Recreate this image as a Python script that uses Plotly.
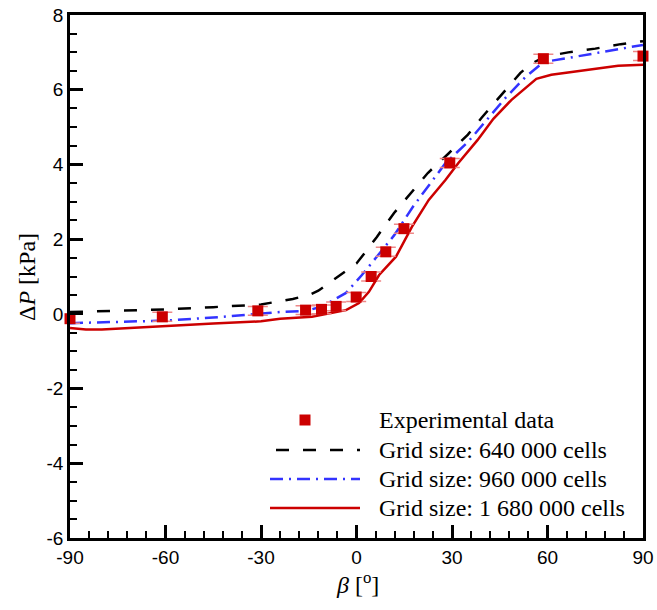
import plotly.graph_objects as go

# Experimental data
exp_beta = [-90, -61, -31, -16, -11, -6.4, -0.1, 4.6, 9.2, 14.9, 29.3, 58.7, 90]
exp_dp = [-0.13, -0.08, 0.08, 0.1, 0.12, 0.2, 0.45, 1.0, 1.66, 2.28, 4.04, 6.83, 6.9]
exp_err = [0.12] * len(exp_beta)

# Grid size: 640 000 cells
g640_beta = [-90, -75, -60, -45, -30, -20, -15, -12, -5.5, 0, 1.4, 6.4, 11.8, 17, 22.4,
             29, 35, 39.3, 45.6, 51.5, 55, 59, 66.5, 75, 83, 90]
g640_dp = [0.05, 0.08, 0.12, 0.18, 0.25, 0.4, 0.5, 0.62, 1.02, 1.35, 1.5, 2.06, 2.7, 3.24, 3.77,
           4.3, 4.8, 5.25, 5.86, 6.45, 6.7, 6.88, 7.0, 7.1, 7.22, 7.3]

# Grid size: 960 000 cells
g960_beta = [-90, -75, -60, -45, -30, -24, -16, -11, -3.3, 1.7, 6.1, 11.8, 18, 23.3, 28,
             35, 41.5, 46.8, 53.1, 58.7, 66.5, 77, 88.5, 90]
g960_dp = [-0.25, -0.22, -0.18, -0.1, 0.0, 0.05, 0.08, 0.19, 0.56, 1.04, 1.5, 2.1, 2.9, 3.5, 4.04,
           4.6, 5.25, 5.78, 6.34, 6.74, 6.85, 7.0, 7.17, 7.2]

# Grid size: 1 680 000 cells
g1680_beta = [-90, -85, -80, -70, -60, -45, -30, -24, -14, -3.3, 0.8, 3.9, 7.1, 12.4, 17.4,
              22.7, 28, 32, 38, 43, 48.7, 53, 56.5, 61.2, 71.9, 82.2, 90]
g1680_dp = [-0.38, -0.42, -0.42, -0.37, -0.32, -0.26, -0.2, -0.13, -0.08, 0.1, 0.29, 0.59, 1.04,
            1.53, 2.33, 3.05, 3.59, 4.04, 4.65, 5.22, 5.73, 6.05, 6.29, 6.4, 6.53, 6.64, 6.67]

legend_labels = ["Experimental data", "Grid size: 640 000 cells",
                 "Grid size: 960 000 cells", "Grid size: 1 680 000 cells"]

x_ticks = [-90, -60, -30, 0, 30, 60, 90]
x_ticktext = ["-90", "-60", "-30", "0", "30", "60", "90"]
y_ticks = [-6, -4, -2, 0, 2, 4, 6, 8]
y_ticktext = ["-6", "-4", "-2", "0", "2", "4", "6", "8"]

RED = "#cc0000"
BLUE = "#3333ff"
W, H = 657, 610
L, R, T, B = 70, 14, 15, 72
PW, PH = W - L - R, H - T - B

def px(x):
    return (x - L) / PW

def py(y):
    return (H - B - y) / PH

fig = go.Figure()
fig.add_trace(go.Scatter(x=g640_beta, y=g640_dp, mode="lines",
                         line=dict(color="black", width=2.5, dash="13px,14px"),
                         name=legend_labels[1], showlegend=False))
fig.add_trace(go.Scatter(x=g960_beta, y=g960_dp, mode="lines",
                         line=dict(color=BLUE, width=2.5, dash="13px,6px,2px,6px"),
                         name=legend_labels[2], showlegend=False))
fig.add_trace(go.Scatter(x=g1680_beta, y=g1680_dp, mode="lines",
                         line=dict(color=RED, width=2.5),
                         name=legend_labels[3], showlegend=False))
fig.add_trace(go.Scatter(x=exp_beta, y=exp_dp, mode="markers",
                         marker=dict(symbol="square", size=11, color=RED),
                         error_y=dict(type="data", array=exp_err, color="#ee8888",
                                      thickness=1.5, width=10),
                         name=legend_labels[0], showlegend=False, cliponaxis=False))

font_tick = dict(family="Liberation Sans, Arial", size=19, color="black")
serif = "Liberation Serif, Times New Roman"

fig.update_xaxes(range=[-90, 90], tickvals=x_ticks, ticktext=x_ticktext, ticks="inside",
                 ticklen=13, tickwidth=2.5, automargin=False,
                 tickcolor="black", showline=True, linewidth=2.5, linecolor="black",
                 mirror=True, showgrid=False, zeroline=False, tickfont=font_tick,
                 minor=dict(dtick=6, ticks="inside", ticklen=7, tickwidth=1.5,
                            tickcolor="black", showgrid=False))
fig.update_yaxes(range=[-6, 8], tickvals=y_ticks, ticktext=y_ticktext, ticks="inside",
                 ticklen=13, tickwidth=2.5, automargin=False,
                 tickcolor="black", showline=True, linewidth=2.5, linecolor="black",
                 mirror=True, showgrid=False, zeroline=False, tickfont=font_tick,
                 minor=dict(dtick=0.5, ticks="inside", ticklen=7, tickwidth=1.5,
                            tickcolor="black", showgrid=False))

annotations = [
    dict(text="<i>β</i> [<sup>o</sup>]", x=px(357), y=py(583), xref="paper", yref="paper",
         showarrow=False, font=dict(family=serif, size=24, color="black"),
         xanchor="center", yanchor="middle"),
    dict(text="Δ<i>P</i> [kPa]", x=px(27), y=py(277), xref="paper", yref="paper",
         showarrow=False, textangle=-90, font=dict(family=serif, size=24, color="black"),
         xanchor="center", yanchor="middle"),
]
rows = [420, 450, 479, 508]
for lab, ry in zip(legend_labels, rows):
    annotations.append(dict(text=lab, x=px(377), y=py(ry), xref="paper", yref="paper",
                            showarrow=False, font=dict(family=serif, size=24, color="black"),
                            xanchor="left", yanchor="middle"))

shapes = [
    dict(type="rect", xref="paper", yref="paper", x0=px(299.5), x1=px(310.5),
         y0=py(425.5), y1=py(414.5), fillcolor=RED, line=dict(width=0)),
    dict(type="line", xref="paper", yref="paper", x0=px(276), x1=px(360), y0=py(450), y1=py(450),
         line=dict(color="black", width=2.5, dash="13px,14px")),
    dict(type="line", xref="paper", yref="paper", x0=px(270), x1=px(360), y0=py(479), y1=py(479),
         line=dict(color=BLUE, width=2.5, dash="13px,6px,2px,6px")),
    dict(type="line", xref="paper", yref="paper", x0=px(270), x1=px(360), y0=py(508), y1=py(508),
         line=dict(color=RED, width=2.5)),
]

fig.update_layout(width=W, height=H, margin=dict(l=L, r=R, t=T, b=B),
                  plot_bgcolor="white", paper_bgcolor="white",
                  annotations=annotations, shapes=shapes, showlegend=False)

fig.write_html("out.html")
